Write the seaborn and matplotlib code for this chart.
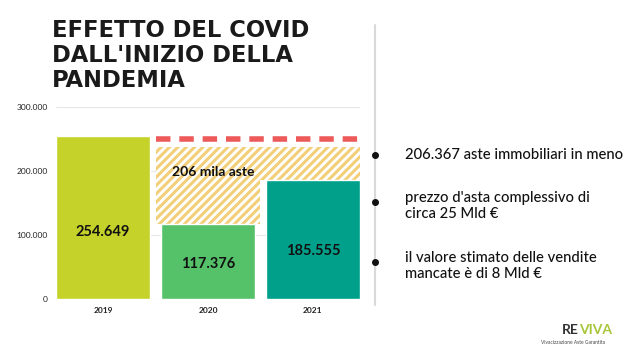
import matplotlib.pyplot as plt
import pandas as pd
import seaborn as sns

years = ["2019", "2020", "2021"]
auctions = [254649, 117376, 185555]
value_labels = ["254.649", "117.376", "185.555"]
bar_colors = ["#c5d22a", "#55c26a", "#00a08a"]

yticks = [0, 100000, 200000, 300000]
ytick_labels = ["0", "100.000", "200.000", "300.000"]

ref_level = 250000
hatch_top = 237000
gap_label = "206 mila aste"

notes = [
    "206.367 aste immobiliari in meno",
    "prezzo d'asta complessivo di\ncirca 25 Mld €",
    "il valore stimato delle vendite\nmancate è di 8 Mld €",
]
note_y = [155, 206, 266]

sns.set_theme(style="white")
plt.rcParams["font.family"] = ["Lato", "DejaVu Sans"]
plt.rcParams["hatch.linewidth"] = 2.2
plt.rcParams["hatch.color"] = "#f2cf78"

df = pd.DataFrame({"year": years, "auctions": auctions})

fig = plt.figure(figsize=(6.4, 3.6), dpi=100)
ax = fig.add_axes([56 / 640, 1 - 299 / 360, 304 / 640, 192 / 360])

sns.barplot(data=df, x="year", y="auctions", hue="year", palette=bar_colors,
            saturation=1, width=0.9, legend=False, ax=ax, zorder=3)

# hatched gap between 2020/2021 and the pre-covid level
for i in (1, 2):
    ax.bar(i, hatch_top - auctions[i], bottom=auctions[i], width=1.0,
           facecolor="white", edgecolor="#f2cf78", hatch="////", linewidth=0, zorder=2)
ax.hlines(ref_level, 0.5, 2.45, colors="#ec5a5a", linestyles=(0, (2.6, 1.6)), linewidth=4, zorder=4)
ax.text(1.05, 198000, gap_label, ha="center", va="center", fontsize=10, fontweight="bold",
        color="#111111", zorder=5)

label_y = [105000, 55000, 75000]
for i, lab in enumerate(value_labels):
    ax.text(i, label_y[i], lab, ha="center", va="center", fontsize=10.5,
            fontweight="bold", color="#111111", zorder=5)

ax.set_xlim(-0.45, 2.45)
ax.set_ylim(0, 300000)
ax.set_yticks(yticks)
ax.set_yticklabels(ytick_labels)
ax.tick_params(axis="both", labelsize=6, colors="#222222", length=0, pad=6)
ax.set_xlabel(None)
ax.set_ylabel(None)
ax.yaxis.grid(True, color="#e6e6e6", linewidth=0.8, zorder=0)
ax.set_axisbelow(True)
sns.despine(ax=ax, left=True, bottom=True, right=True, top=True)
for lab in ax.get_xticklabels():
    lab.set_fontweight("bold")

# title
fig.text(52 / 640, 1 - 19 / 360,
         "EFFETTO DEL COVID\nDALL'INIZIO DELLA\nPANDEMIA",
         ha="left", va="top", fontsize=16.3, fontweight="heavy", family="DejaVu Sans",
         linespacing=1.1, color="#1a1a1a")

# timeline on the right
fig.add_artist(plt.Line2D([375 / 640, 375 / 640], [1 - 25 / 360, 1 - 305 / 360],
                          color="#d9d9d9", linewidth=1.5))
for y, txt in zip(note_y, notes):
    fig.add_artist(plt.Line2D([375 / 640], [1 - (155 if y == 155 else y - 4) / 360], marker="o",
                              markersize=4, color="#111111", linewidth=0))
    fig.text(405 / 640, 1 - y / 360, txt, ha="left", va="center",
             fontsize=10.6, fontweight="medium", color="#111111", linespacing=1.1)

# logo
fig.text(562 / 640, 1 - 330 / 360, "RE", fontsize=10, fontweight="bold", color="#333333",
         ha="left", va="center")
fig.text(579 / 640, 1 - 330 / 360, "VIVA", fontsize=10, fontweight="bold", color="#a8c63a",
         ha="left", va="center")
fig.text(541 / 640, 1 - 342 / 360, "Vivacizzazione Aste Garantita", fontsize=3.5,
         color="#444444", ha="left", va="center")

fig.savefig("out.png", dpi=100)
